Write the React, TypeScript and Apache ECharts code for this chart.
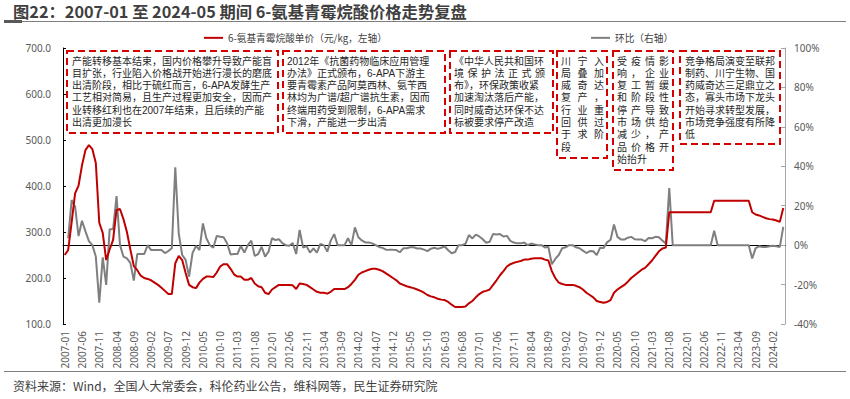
import React, { useEffect, useRef } from "react";
import * as echarts from "echarts";

// ---------- DATA ----------
const FIRST_YEAR = 2007;
const LAST_YEAR = 2024;
const LAST_MONTH = 5;
const MONTHS: string[] = [];
for (let y = FIRST_YEAR; y <= LAST_YEAR; y++) {
  for (let m = 1; m <= 12; m++) {
    if (y === LAST_YEAR && m > LAST_MONTH) break;
    MONTHS.push(`${y}-${String(m).padStart(2, "0")}`);
  }
}

const NAME_PRICE = "6-氨基青霉烷酸单价（元/kg，左轴）";
const NAME_MOM = "环比（右轴）";

// 6-APA price (yuan/kg), monthly
const PRICE: number[] = [
  // 2007
  250, 261, 321, 384, 401, 445, 478, 489, 480, 450, 320, 298,
  // 2008
  239, 262, 283, 348, 350, 328, 300, 262, 226, 217, 205, 200,
  // 2009
  198, 195, 190, 185, 179, 172, 165, 165, 232, 248, 239, 211,
  // 2010
  185, 180, 178, 190, 198, 203, 203, 202, 212, 225, 230, 230,
  // 2011
  220, 208, 203, 203, 196, 196, 200, 188, 182, 180, 168, 165,
  // 2012
  175, 180, 185, 185, 185, 185, 184, 176, 188, 187, 185, 180,
  // 2013
  175, 170, 168, 168, 166, 170, 176, 176, 176, 176, 180, 187,
  // 2014
  196, 207, 212, 215, 218, 220, 220, 218, 215, 210, 205, 200,
  // 2015
  195, 188, 185, 182, 180, 178, 175, 172, 168, 163, 160, 158,
  // 2016
  155, 153, 152, 148, 142, 137, 137, 137, 138, 145, 150, 158,
  // 2017
  165, 170, 172, 175, 185, 195, 206, 215, 225, 230, 233, 235,
  // 2018
  237, 240, 240, 242, 243, 243, 243, 240, 238, 215, 200, 190,
  // 2019
  187, 185, 185, 185, 183, 180, 175, 168, 163, 158, 150, 148,
  // 2020
  146, 148, 152, 168, 175, 180, 185, 192, 200, 206, 212, 218,
  // 2021
  222, 230, 238, 248, 258, 264, 266, 343, 343, 343, 343, 343,
  // 2022
  343, 343, 343, 343, 343, 343, 343, 343, 368, 368, 368, 368,
  // 2023
  368, 368, 368, 368, 368, 368, 368, 343, 338, 336, 333, 330,
  // 2024
  328, 327, 325, 322, 352,
];

// month-on-month change (%)
const MOM: (number | null)[] = [
  // 2007
  null, 3.5, 22.9, 19.5, 4.6, 12.4, 7, 2, 0, -5.8, -29.2, -6.2,
  // 2008
  -20.2, 8, 8, 24.9, 0, -5.8, -6.7, -9, -18, -4.5, -4.5, -4.5,
  // 2009
  0, -2.5, -2.5, -2.5, -2.5, -4, -3, -1.6, 39.5, 6, -5, -7.5,
  // 2010
  -16, -4, -0.4, -2.5, 11, 3.5, 0, -1.3, 4.6, 4.3, 4, 1,
  // 2011
  -4.7, -4.5, -4.5, -0.4, -3.8, 0, 2.3, -5.5, -4.5, -0.8, -5.8, -3.3,
  // 2012
  3.5, 2.6, 3, 1, 0, -0.3, 1, -4.5, 7.7, -1.2, -0.5, -3.8,
  // 2013
  -1.6, -3.8, 0.6, 0, -3.3, 2.3, 5.6, 0, 0, 0, 3.5, 0,
  // 2014
  9, 4, 2.4, 1.4, 1.4, 0.9, 0, -0.9, -1.4, -2.3, -2.4, -2.4,
  // 2015
  -2.5, -3.6, -1.6, -1.6, -1.1, -1.1, -1.7, -1.7, -2.3, -3, -1.8, -1.3,
  // 2016
  -1.9, -1.3, -0.7, -2.6, -4.1, -3.5, 0, 0, 0.7, 5.1, 3.4, 5.3,
  // 2017
  4.4, 3, 1.2, 1.7, 5.7, 5.4, 5.6, 4.4, 4.7, 2.2, 1.3, 0.9,
  // 2018
  0.9, 1.3, 0, 0.8, 0.4, 0, 0, -1.2, -0.8, -9.7, -7, -5,
  // 2019
  -1.6, -1.1, 0, 0, -1.1, -1.6, -2.8, -4, -3, -3.1, -5.1, -1.3,
  // 2020
  -1.4, 1.4, 2.7, 10.5, 4.2, 2.9, 2.8, 3.8, 4.2, 3, 2.9, 2.8,
  // 2021
  2, 3.6, 3.5, 4.2, 4, 2.3, 0.8, 29, 0, 0, 0, 0,
  // 2022
  0, 0, 0, 0, 0, 0, 0, 0, 7.3, 0, 0, 0,
  // 2023
  0, 0, 0, 0, 0, 0, 0, -6.8, -1.5, -0.6, -0.9, -0.9,
  // 2024
  -0.6, -0.3, -0.6, -0.9, 9.3,
];

const LEFT_MIN = 100;
const LEFT_MAX = 700;
const LEFT_STEP = 100;
const RIGHT_MIN = -40;
const RIGHT_MAX = 100;
const RIGHT_STEP = 20;

const TITLE = "图22：2007-01 至 2024-05 期间 6-氨基青霉烷酸价格走势复盘";
const SOURCE = "资料来源：Wind，全国人大常委会，科伦药业公告，维科网等，民生证券研究院";

const NOTE1 = [
  "产能转移基本结束，国内价格攀升导致产能盲",
  "目扩张，行业陷入价格战开始进行漫长的磨底",
  "出清阶段，相比于硫红而言，6-APA发酵生产",
  "工艺相对简易，且生产过程更加安全，因而产",
  "业转移红利也在2007年结束，且后续的产能",
  "出清更加漫长",
];
const NOTE2 = [
  "2012年《抗菌药物临床应用管理",
  "办法》正式颁布，6-APA下游主",
  "要青霉素产品阿莫西林、氨苄西",
  "林均为广谱/超广谱抗生素，因而",
  "终端用药受到限制，6-APA需求",
  "下滑，产能进一步出清",
];
const NOTE3 = [
  "《中华人民共和国环",
  "境保护法正式颁",
  "布》，环保政策收紧",
  "加速淘汰落后产能，",
  "同时威奇达环保不达",
  "标被要求停产改造",
];
const NOTE4 = ["川宁入", "局叠加", "威奇达", "复产，", "行业重", "回供过", "于求阶", "段"];
const NOTE5 = ["受疫情影", "响，企业", "复工暂缓", "和阶段性", "停产导致", "市场供给", "减少，产", "品价格开", "始抬升"];
const NOTE6 = [
  "竞争格局演变至联邦",
  "制药、川宁生物、国",
  "药威奇达三足鼎立之",
  "态，寡头市场下龙头",
  "开始寻求转型发展，",
  "市场竞争强度有所降",
  "低",
];

// ---------- STYLE / LAYOUT ----------
const FONT = "'Noto Sans', 'Noto Sans CJK SC', sans-serif";
const CJK = "'Noto Sans CJK SC', 'Noto Sans', sans-serif";
// notes: compact-metric primary font, CJK glyphs from Noto Sans CJK SC
const NOTE_FAMILY = "'Liberation Sans', 'Noto Sans CJK SC', sans-serif";
const RED = "#c00000";
const GRAY = "#7f7f7f";
const BOX_RED = "#d60000";
const NOTE_FONT = 10;
const NOTE_PITCH = 12.3;

type Box = {
  x: number; y: number; w: number; h: number;
  lines: string[]; padL: number; padR: number; justify: boolean[];
};

const BOXES: Box[] = [
  { x: 67, y: 51, w: 211, h: 82, lines: NOTE1, padL: 5, padR: 5, justify: [] },
  { x: 283, y: 51, w: 162, h: 82, lines: NOTE2, padL: 4, padR: 4, justify: [] },
  { x: 450, y: 51, w: 103, h: 82, lines: NOTE3, padL: 4, padR: 8, justify: [false, true] },
  { x: 557, y: 51, w: 50, h: 107, lines: NOTE4, padL: 4, padR: 3, justify: [true, true, true, true, true, true, true, false] },
  { x: 613, y: 51, w: 60, h: 119, lines: NOTE5, padL: 4, padR: 4, justify: [true, true, true, true, true, true, true, true, false] },
  { x: 680, y: 51, w: 100, h: 93, lines: NOTE6, padL: 5, padR: 4, justify: [] },
];

function noteText(text: string, x: number, y: number): any {
  return {
    type: "text",
    x,
    y,
    z: 11,
    style: {
      text,
      fontSize: NOTE_FONT,
      lineHeight: 12,
      fontFamily: NOTE_FAMILY,
      fill: "#262626",
      align: "left",
      verticalAlign: "middle",
    },
  };
}

function boxElements(b: Box): any[] {
  const els: any[] = [
    {
      type: "rect",
      shape: { x: b.x, y: b.y, width: b.w, height: b.h },
      style: { fill: "rgba(0,0,0,0)", stroke: BOX_RED, lineWidth: 2, lineDash: [7, 4] },
      z: 10,
    },
  ];
  const innerL = b.x + b.padL;
  const innerR = b.x + b.w - b.padR;
  b.lines.forEach((line, i) => {
    const cy = b.y + 10 + i * NOTE_PITCH;
    if (b.justify[i]) {
      const chars = Array.from(line);
      const n = chars.length;
      const step = (innerR - innerL - NOTE_FONT) / (n - 1);
      chars.forEach((ch, k) => els.push(noteText(ch, innerL + k * step, cy)));
    } else {
      els.push(noteText(line, innerL, cy));
    }
  });
  return els;
}

function buildOption(): any {
  const graphic: any[] = [
    {
      type: "text",
      x: 13,
      y: 11,
      style: { text: TITLE, fontSize: 16.3, fontWeight: "bold", fontFamily: CJK, fill: "#3f3f3f", align: "left", verticalAlign: "middle" },
    },
    { type: "line", shape: { x1: 4, y1: 21.5, x2: 846, y2: 21.5 }, style: { stroke: "#7f7f7f", lineWidth: 1 } },
    { type: "rect", shape: { x: 4, y: 20, width: 18, height: 3 }, style: { fill: "#595959" } },
    { type: "line", shape: { x1: 4, y1: 371.5, x2: 846, y2: 371.5 }, style: { stroke: "#7f7f7f", lineWidth: 1 } },
    {
      type: "text",
      x: 13,
      y: 385,
      style: { text: SOURCE, fontSize: 12, fontFamily: CJK, fill: "#404040", align: "left", verticalAlign: "middle" },
    },
  ];
  BOXES.forEach((b) => graphic.push(...boxElements(b)));

  const legendText = { fontSize: 9.7, color: "#404040", fontFamily: CJK };
  return {
    animation: false,
    backgroundColor: "#ffffff",
    textStyle: { fontFamily: FONT },
    grid: { left: 63, right: 65, top: 48, bottom: 75, containLabel: false },
    legend: [
      { data: [NAME_PRICE], left: 199, top: 28, icon: "rect", itemWidth: 19, itemHeight: 2, textStyle: legendText, selectedMode: false },
      { data: [NAME_MOM], left: 586, top: 28, icon: "rect", itemWidth: 19, itemHeight: 2, textStyle: legendText, selectedMode: false },
    ],
    xAxis: {
      type: "category",
      data: MONTHS,
      boundaryGap: true,
      axisLine: { show: true, lineStyle: { color: "#000000", width: 1 } },
      axisTick: { show: false },
      axisLabel: { interval: 4, rotate: 90, fontSize: 10, color: "#595959", margin: 7 },
      splitLine: { show: false },
    },
    yAxis: [
      {
        type: "value",
        min: LEFT_MIN,
        max: LEFT_MAX,
        interval: LEFT_STEP,
        position: "left",
        axisLine: { show: true, lineStyle: { color: "#000000", width: 1 } },
        axisTick: { show: true, inside: true, length: 3, lineStyle: { color: "#000000" } },
        axisLabel: { formatter: (v: number) => v.toFixed(1), fontSize: 10, color: "#595959", margin: 12 },
        splitLine: { show: false },
      },
      {
        type: "value",
        min: RIGHT_MIN,
        max: RIGHT_MAX,
        interval: RIGHT_STEP,
        position: "right",
        axisLine: { show: true, lineStyle: { color: "#a6a6a6", width: 1 } },
        axisTick: { show: true, inside: true, length: 4, lineStyle: { color: "#a6a6a6" } },
        axisLabel: { formatter: (v: number) => `${v}%`, fontSize: 10, color: "#595959", margin: 9 },
        splitLine: { show: false },
      },
    ],
    series: [
      {
        name: NAME_MOM,
        type: "line",
        yAxisIndex: 1,
        data: MOM,
        symbol: "none",
        lineStyle: { color: GRAY, width: 2 },
        itemStyle: { color: GRAY },
        z: 2,
      },
      {
        name: NAME_PRICE,
        type: "line",
        yAxisIndex: 0,
        data: PRICE,
        symbol: "none",
        lineStyle: { color: RED, width: 2 },
        itemStyle: { color: RED },
        z: 3,
      },
    ],
    graphic,
  };
}

export default function App() {
  const ref = useRef<HTMLDivElement>(null);
  useEffect(() => {
    document.body.style.margin = "0";
    if (!ref.current) return;
    const chart = echarts.init(ref.current, undefined, { renderer: "svg" });
    chart.setOption(buildOption());
    return () => {
      chart.dispose();
    };
  }, []);
  return <div ref={ref} style={{ width: 850, height: 399, background: "#fff" }} />;
}
